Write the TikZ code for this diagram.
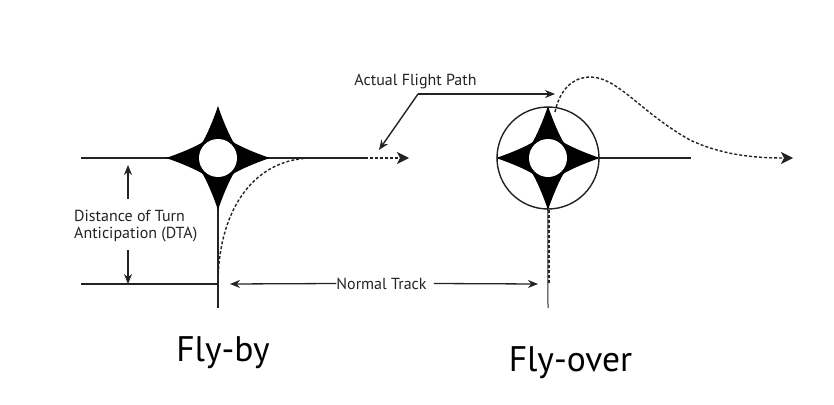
\documentclass[tikz,border=0pt]{standalone}
\usepackage{fontspec}
\setmainfont{PT Sans}
\usetikzlibrary{arrows.meta,positioning,calc}
\definecolor{trackInk}{RGB}{35,35,35}

\begin{document}
\begin{tikzpicture}[
  x=1pt, y=-1pt,
  track/.style ={draw=trackInk, line width=1.4pt},
  dotpath/.style={draw=trackInk, line width=1.4pt, dash pattern=on 3pt off 2pt},
  flow/.style  ={-{Stealth[length=10pt,width=8pt]}, line width=1.4pt, draw=trackInk},
  both/.style  ={{Stealth[length=10pt,width=8pt]}-, line width=1.3pt, draw=trackInk},
  tip/.style   ={-{Stealth[length=12pt,width=12pt,inset=3pt]}, dotpath},
  note/.style  ={font=\fontsize{16}{17}\selectfont, text=trackInk, inner sep=0pt},
  title/.style ={font=\fontsize{35.5}{40}\selectfont, text=black, inner sep=0pt},
  hole/.style  ={circle, draw=none, fill=white, minimum size=38pt, inner sep=0pt},
  starfill/.style={fill=black, draw=none},
  ring/.style  ={circle, draw=trackInk, line width=1.4pt, minimum size=102pt, inner sep=0pt},
  waystar/.pic={
    \path[starfill] (0,0) circle (22);
    \foreach \ang in {0,90,180,270} {
      \path[starfill, rotate=\ang] (-16,-15) .. controls (-12,-21) and (-5,-37) .. (0,-52)
        .. controls (5,-37) and (12,-21) .. (16,-15) -- (0,0) -- cycle;
    }
  },
]
\useasboundingbox (0,0) rectangle (834,404);

% ============ FLY-BY ============
\coordinate (byLeft)  at (81,158);
\coordinate (byFade)  at (365,158);
\coordinate (byEnd)   at (409,158);
\coordinate (byFoot)  at (218,308);
\coordinate (byBase)  at (81,284);
\coordinate (byCorner) at (218,284);
\coordinate (byJoin)  at (310,158);

\draw[track] (byLeft) -- (byFade);
\draw[track] (218,158) -- (byFoot);
\draw[track] (byBase) -- (byCorner);
\draw[tip] (byFade) -- (byEnd);
\draw[dotpath] (byCorner) .. controls (218,215) and (250,160) .. (byJoin);

\pic at (218,158) {waystar};
\node[hole] (byHole) at (218,158) {};

% ============ DTA ============
\node[note, align=left, anchor=west] (dta) at (74,226)
  {Distance of Turn\\Anticipation (DTA)};
\coordinate (dtaTop) at (128,165);
\coordinate (dtaBot) at (128,284);
\draw[both] (dtaTop) -- (128,199);
\draw[both] (dtaBot) -- (128,250);

% ============ FLY-OVER ============
\coordinate (ovFoot)  at (548,308);
\coordinate (ovStop)  at (548.8,284);
\coordinate (ovRight) at (691,158);
\coordinate (ovEnd)   at (793,158);
\coordinate (ovStart) at (555,112);

\draw[track, line width=1pt] (547.6,158) -- (ovFoot);
\draw[dotpath] (548.8,210) -- (ovStop);
\draw[track] (548,158) -- (ovRight);
\node[ring, fill=white] (ovRing) at (548,158) {};
\pic at (548,158) {waystar};
\node[hole] (ovHole) at (548,158) {};
\draw[tip] (ovStart) .. controls (561,84) and (578,77) .. (590,77)
   .. controls (618,77) and (640,112) .. (690,140)
   .. controls (720,154) and (750,158) .. (ovEnd);

% ============ LABELS ============
\node[note] (track) at (381.5,283.5) {Normal Track};
\coordinate (trkLeft)  at (230,284);
\coordinate (trkRight) at (538,284);
\draw[both] (trkLeft) -- (track.west);
\draw[flow, line width=1.3pt] ([xshift=7pt]track.east) -- (trkRight);

\node[note] (actual) at (415.5,82) {Actual Flight Path};
\coordinate (actBend) at (418,94);
\coordinate (actOver) at (555,94);
\coordinate (actBy)   at (379,150);
\draw[flow] (actBend) -- (actOver);
\draw[flow] (actBend) -- (actBy);

\node[title] (flyby)   at (223,353) {Fly-by};
\node[title] (flyover) at (570.5,363) {Fly-over};

\end{tikzpicture}
\end{document}
